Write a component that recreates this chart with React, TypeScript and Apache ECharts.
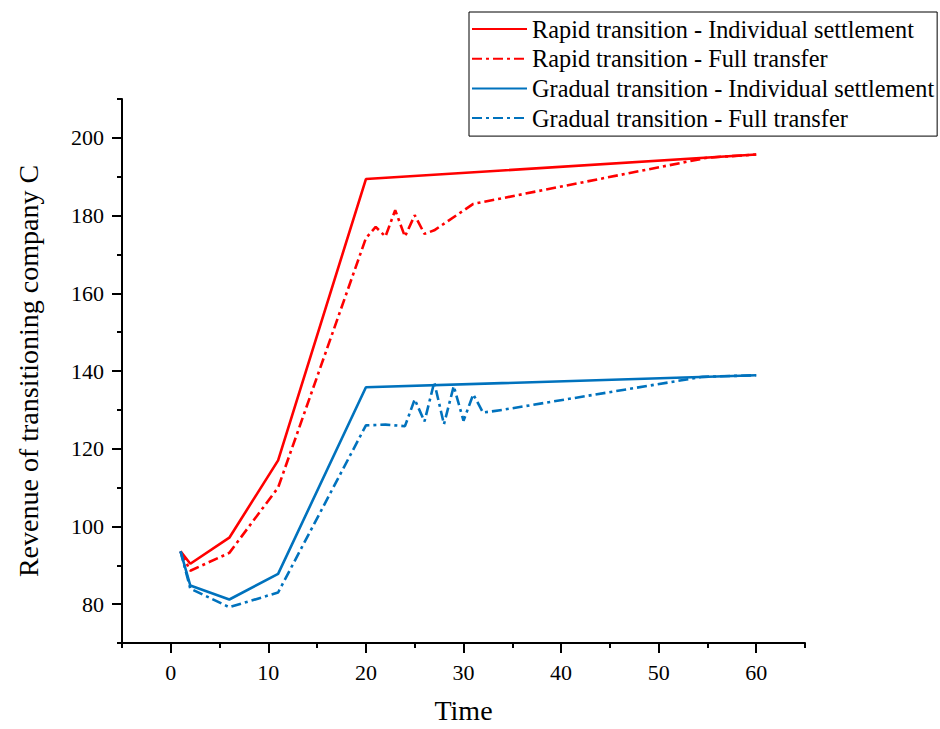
import React, { useEffect, useRef } from "react";
import * as echarts from "echarts";

const seriesNames = [
  "Rapid transition - Individual settlement",
  "Rapid transition - Full transfer",
  "Gradual transition - Individual settlement",
  "Gradual transition - Full transfer",
];

const rapidIndividualX = [1, 2, 6, 11, 20, 60];
const rapidIndividualY = [93.6, 90.4, 97.1, 117, 189.4, 195.7];

const rapidFullX = [1, 2, 6, 11, 20, 21, 22, 23, 24, 25, 26, 27, 31, 55, 60];
const rapidFullY = [93.6, 88.6, 93.2, 110, 174.2, 177.1, 174.6, 181.4, 174.6, 180.1, 175.3, 176.2, 183, 194.9, 195.7];

const gradualIndividualX = [1, 2, 6, 11, 20, 60];
const gradualIndividualY = [93.6, 84.8, 81.2, 87.8, 135.8, 138.9];

const gradualFullX = [1, 2, 6, 11, 20, 22, 24, 25, 26, 27, 28, 29, 30, 31, 32, 34, 54.5, 60];
const gradualFullY = [93.6, 84, 79.2, 83, 126, 126.2, 125.8, 132.7, 127, 137.1, 126.3, 136.1, 127.2, 134, 129.3, 130, 138.5, 138.9];

const xMajorTicks = [0, 10, 20, 30, 40, 50, 60];
const xMinorTicks = [-5, 5, 15, 25, 35, 45, 55, 65];
const yMajorTicks = [80, 100, 120, 140, 160, 180, 200];
const yMinorTicks = [70, 90, 110, 130, 150, 170, 190, 210];

const RED = "#FF0000";
const BLUE = "#0072BD";
const FONT = "Liberation Serif";
const DASHDOT = [10, 4, 3, 4];

const zip = (xs: number[], ys: number[]) => xs.map((x, i) => [x, ys[i]]);

export default function App() {
  const ref = useRef<HTMLDivElement>(null);
  useEffect(() => {
    if (!ref.current) return;
    const chart = echarts.init(ref.current, null, { renderer: "svg" });
    const axisLine = { show: true, onZero: false, lineStyle: { color: "#000", width: 2 } };
    const mk = (name: string, xs: number[], ys: number[], color: string, dashed: boolean) => ({
      name,
      type: "line",
      xAxisIndex: 0,
      yAxisIndex: 0,
      data: zip(xs, ys),
      symbol: "none",
      lineStyle: { color, width: 2.6, type: dashed ? DASHDOT : "solid" },
      itemStyle: { color },
    });
    chart.setOption({
      animation: false,
      backgroundColor: "#fff",
      textStyle: { fontFamily: FONT },
      grid: { left: 122, right: 135, top: 99, bottom: 79, containLabel: false },
      legend: {
        orient: "vertical",
        left: 469,
        top: 12,
        padding: [5, 3, 6, 2],
        itemGap: 5.7,
        itemWidth: 55,
        itemHeight: 14,
        borderColor: "#000",
        borderWidth: 1,
        backgroundColor: "#fff",
        itemStyle: { opacity: 0, color: "transparent", borderWidth: 0 },
        textStyle: { fontFamily: FONT, fontSize: 24.3, color: "#000" },
        data: seriesNames,
      },
      xAxis: [
        {
          type: "value",
          min: -5,
          max: 65,
          name: "Time",
          nameLocation: "middle",
          nameGap: 53,
          nameTextStyle: { fontFamily: FONT, fontSize: 28, color: "#000" },
          axisLine,
          splitLine: { show: false },
          axisTick: { show: true, length: 10, lineStyle: { color: "#000", width: 2 }, customValues: xMajorTicks },
          axisLabel: { customValues: xMajorTicks, fontFamily: FONT, fontSize: 22, color: "#000", margin: 18 },
        },
        {
          type: "value",
          min: -5,
          max: 65,
          position: "bottom",
          offset: 0,
          axisLine: { show: false, onZero: false },
          splitLine: { show: false },
          axisTick: { show: true, length: 5, lineStyle: { color: "#000", width: 2 }, customValues: xMinorTicks },
          axisLabel: { show: false },
        },
      ],
      yAxis: [
        {
          type: "value",
          min: 70,
          max: 210,
          name: "Revenue of transitioning company C",
          nameLocation: "middle",
          nameGap: 80,
          nameTextStyle: { fontFamily: FONT, fontSize: 28, color: "#000" },
          axisLine,
          splitLine: { show: false },
          axisTick: { show: true, length: 10, lineStyle: { color: "#000", width: 2 }, customValues: yMajorTicks },
          axisLabel: { customValues: yMajorTicks, fontFamily: FONT, fontSize: 22, color: "#000", margin: 18 },
        },
        {
          type: "value",
          min: 70,
          max: 210,
          position: "left",
          offset: 0,
          axisLine: { show: false, onZero: false },
          splitLine: { show: false },
          axisTick: { show: true, length: 5, lineStyle: { color: "#000", width: 2 }, customValues: yMinorTicks },
          axisLabel: { show: false },
        },
      ],
      series: [
        mk(seriesNames[0], rapidIndividualX, rapidIndividualY, RED, false),
        mk(seriesNames[1], rapidFullX, rapidFullY, RED, true),
        mk(seriesNames[2], gradualIndividualX, gradualIndividualY, BLUE, false),
        mk(seriesNames[3], gradualFullX, gradualFullY, BLUE, true),
      ],
    });
    return () => chart.dispose();
  }, []);
  return <div ref={ref} style={{ position: "fixed", left: 0, top: 0, width: 940, height: 729 }} />;
}
